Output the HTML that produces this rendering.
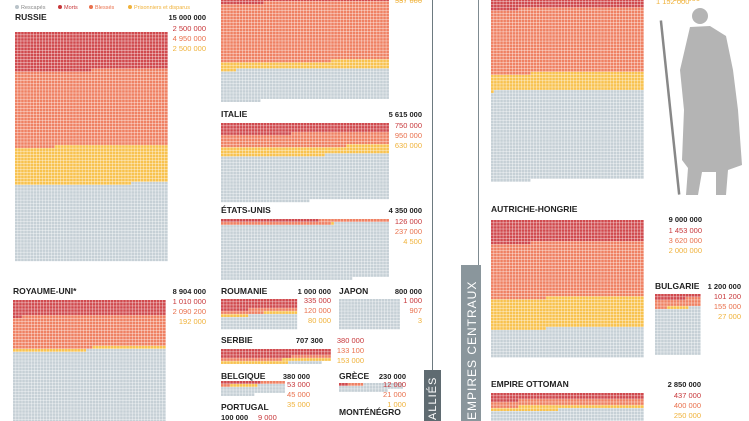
<!DOCTYPE html>
<html><head><meta charset="utf-8">
<style>
html,body{margin:0;padding:0;background:#fff;}
svg{display:block;font-family:"Liberation Sans",sans-serif;}
.nm{font-size:8.5px;font-weight:bold;fill:#222;}
.tt{font-size:7.5px;font-weight:bold;fill:#222;}
.vd{font-size:7.5px;fill:#c7373a;}
.vw{font-size:7.5px;fill:#e9704c;}
.vp{font-size:7.5px;fill:#f0b23a;}
</style></head>
<body>
<svg id="chart" width="749" height="421" viewBox="0 0 749 421">
<g id="legend" font-size="5.5">
 <circle cx="17" cy="7" r="2" fill="#b9c3c9"/><text x="21" y="9" fill="#888">Rescapés</text>
 <circle cx="60" cy="7" r="2" fill="#c7373a"/><text x="64" y="9" fill="#c7373a">Morts</text>
 <circle cx="91" cy="7" r="2" fill="#e9704c"/><text x="95" y="9" fill="#e9704c">Blessés</text>
 <circle cx="130" cy="7" r="2" fill="#f0b23a"/><text x="134" y="9" fill="#f0b23a">Prisonniers et disparus</text>
</g>
<g id="dividers">
 <line x1="432.5" y1="0" x2="432.5" y2="370" stroke="#6d7a80" stroke-width="1"/>
 <rect x="424" y="370" width="17" height="51" fill="#5f6b71"/>
 <text transform="translate(436,420) rotate(-90)" font-size="11" fill="#fff" letter-spacing="1">ALLIÉS</text>
 <line x1="478.5" y1="0" x2="478.5" y2="265" stroke="#7f8b91" stroke-width="1"/>
 <rect x="461" y="265" width="20" height="156" fill="#8a969c"/>
 <text transform="translate(476,420) rotate(-90)" font-size="12" fill="#fff" letter-spacing="1">EMPIRES CENTRAUX</text>
</g>
<g id="soldier" fill="#b4b4b4">
 <circle cx="700" cy="16" r="8"/>
 <path d="M690 27 L710 26 L726 36 L733 70 L738 110 L742 165 L728 170 L726 195 L716 195 L716 172 L702 172 L698 195 L686 195 L688 168 L682 160 L684 110 L680 70 Z"/>
 <rect x="668" y="20" width="2.5" height="175" fill="#888" transform="rotate(-6 670 100)"/>
</g>
<g id="waffles"></g>
<g id="labels"></g>
</svg>
<script>
// data (people per country); each cell = 4000 people
const countries = ["RUSSIE","ROYAUME-UNI*","FRANCE","ITALIE","ÉTATS-UNIS","ROUMANIE","JAPON","SERBIE","BELGIQUE","GRÈCE","ALLEMAGNE","AUTRICHE-HONGRIE","BULGARIE","EMPIRE OTTOMAN"];
const totals   = [15000000, 8904000, 8410000, 5615000, 4350000, 1000000, 800000, 707300, 380000, 230000, 13250000, 9000000, 1200000, 2850000];
const deaths   = [2500000, 1010000, 1375000, 750000, 126000, 335000, 1000, 380000, 53000, 12000, 2037000, 1453000, 101200, 437000];
const wounded  = [4950000, 2090200, 4266000, 950000, 237000, 120000, 907, 133100, 45000, 21000, 4216000, 3620000, 155000, 400000];
const prisoners= [2500000, 192000, 537000, 630000, 4500, 80000, 3, 153000, 35000, 1000, 1152000, 2000000, 27000, 250000];
const perCell = 4000;

// layout (not data)
const gx   = [15, 13, 221, 221, 221, 221, 339, 221, 221, 339, 491, 491, 655, 491];
const gy   = [32, 300, -17, 123, 219, 299, 299, 349, 381, 383, -23, 220, 294, 393];
const gcol = [50, 50, 55, 55, 55, 25, 20, 36, 21, 21, 50, 50, 15, 50];
const nameXY = [[15,20],[13,294],null,[221,117],[221,213],[221,294],[339,294],[221,343],[221,379],[339,379],null,[491,212],[655,289],[491,387]];
const totXY  = [[206,20],[206,294],null,[422,117],[422,213],[331,294],[422,294],[323,343],[310,379],[406,379],null,[702,222],[741,289],[701,387]];
const valX   = [206,206,422,422,422,331,422,364,310,406,700,702,741,701];
const valY0  = [31,304,-19,128,224,303,303,343,387,387,-19,233,299,398];

const P = 3.06, S = 2.7;
const C = {d:"#d04a4e", w:"#ef8163", p:"#f8c24f", r:"#c6d0d6"};
const NS = "http://www.w3.org/2000/svg";
const wg = document.getElementById("waffles");
const lg = document.getElementById("labels");
function fmt(n){return String(n).replace(/\B(?=(\d{3})+(?!\d))/g," ");}
function cellX(i,c,x0){return x0 + (i % c) * P;}
function cellY(i,c,y0){return y0 + Math.floor(i / c) * P;}

countries.forEach((name, k) => {
  const n = Math.round(totals[k] / perCell);
  const nd = Math.round(deaths[k] / perCell);
  const nw = Math.round(wounded[k] / perCell);
  const np = Math.round(prisoners[k] / perCell);
  const g = document.createElementNS(NS, "g");
  
  
  for (let i = 0; i < n; i++) {
    const col = i < nd ? C.d : i < nd + nw ? C.w : i < nd + nw + np ? C.p : C.r;
    const r = document.createElementNS(NS, "rect");
    r.setAttribute("x", cellX(i, gcol[k], gx[k]).toFixed(2));
    r.setAttribute("y", cellY(i, gcol[k], gy[k]).toFixed(2));
    r.setAttribute("width", S); r.setAttribute("height", S);
    r.setAttribute("fill", col);
    g.appendChild(r);
  }
  wg.appendChild(g);
  function txt(x, y, s, cls, anchor, dn){
    const t = document.createElementNS(NS, "text");
    t.setAttribute("x", x); t.setAttribute("y", y);
    t.setAttribute("class", cls);
    if (anchor) t.setAttribute("text-anchor", anchor);
    t.textContent = s;
    
    
    lg.appendChild(t);
  }
  const slug = name.toLowerCase().replace(/[^a-zà-ü]+/g,'-');
  if (nameXY[k]) txt(nameXY[k][0], nameXY[k][1], name, "nm", null, slug + '-name');
  if (totXY[k]) txt(totXY[k][0], totXY[k][1], fmt(totals[k]), "tt", "end", slug + '-total');
  const vals = [deaths[k], wounded[k], prisoners[k]];
  const cls = ["vd","vw","vp"];
  const kind = ["deaths","wounded","prisoners"];
  vals.forEach((v, j) => {
    const y = valY0[k] + j * 10;
    if (y < 0) return;
    txt(valX[k], y, fmt(v), cls[j], "end", slug + '-' + kind[j] + '-value');
  });
  if (k === 2) txt(422, 3, fmt(prisoners[k]), "vp", "end", 'france-prisoners-value');
  if (k === 10) txt(656, 4, fmt(prisoners[k]), "vp", null, 'allemagne-prisoners-value');
});
(function(){
  const items = [["PORTUGAL",221,410,"nm","portugal-name"],["100 000",221,420,"tt","portugal-total"],["MONTÉNÉGRO",339,415,"nm","montenegro-name"]];
  items.forEach(it => {
    const t = document.createElementNS(NS, "text");
    t.setAttribute("x", it[1]); t.setAttribute("y", it[2]); t.setAttribute("class", it[3]);
    t.textContent = it[0];
    
    
    lg.appendChild(t);
  });
  const t = document.createElementNS(NS, "text");
  t.setAttribute("x", 258); t.setAttribute("y", 420); t.setAttribute("class", "vd");
  t.textContent = "9 000";
  
  
  lg.appendChild(t);
})();
</script>
</body></html>
